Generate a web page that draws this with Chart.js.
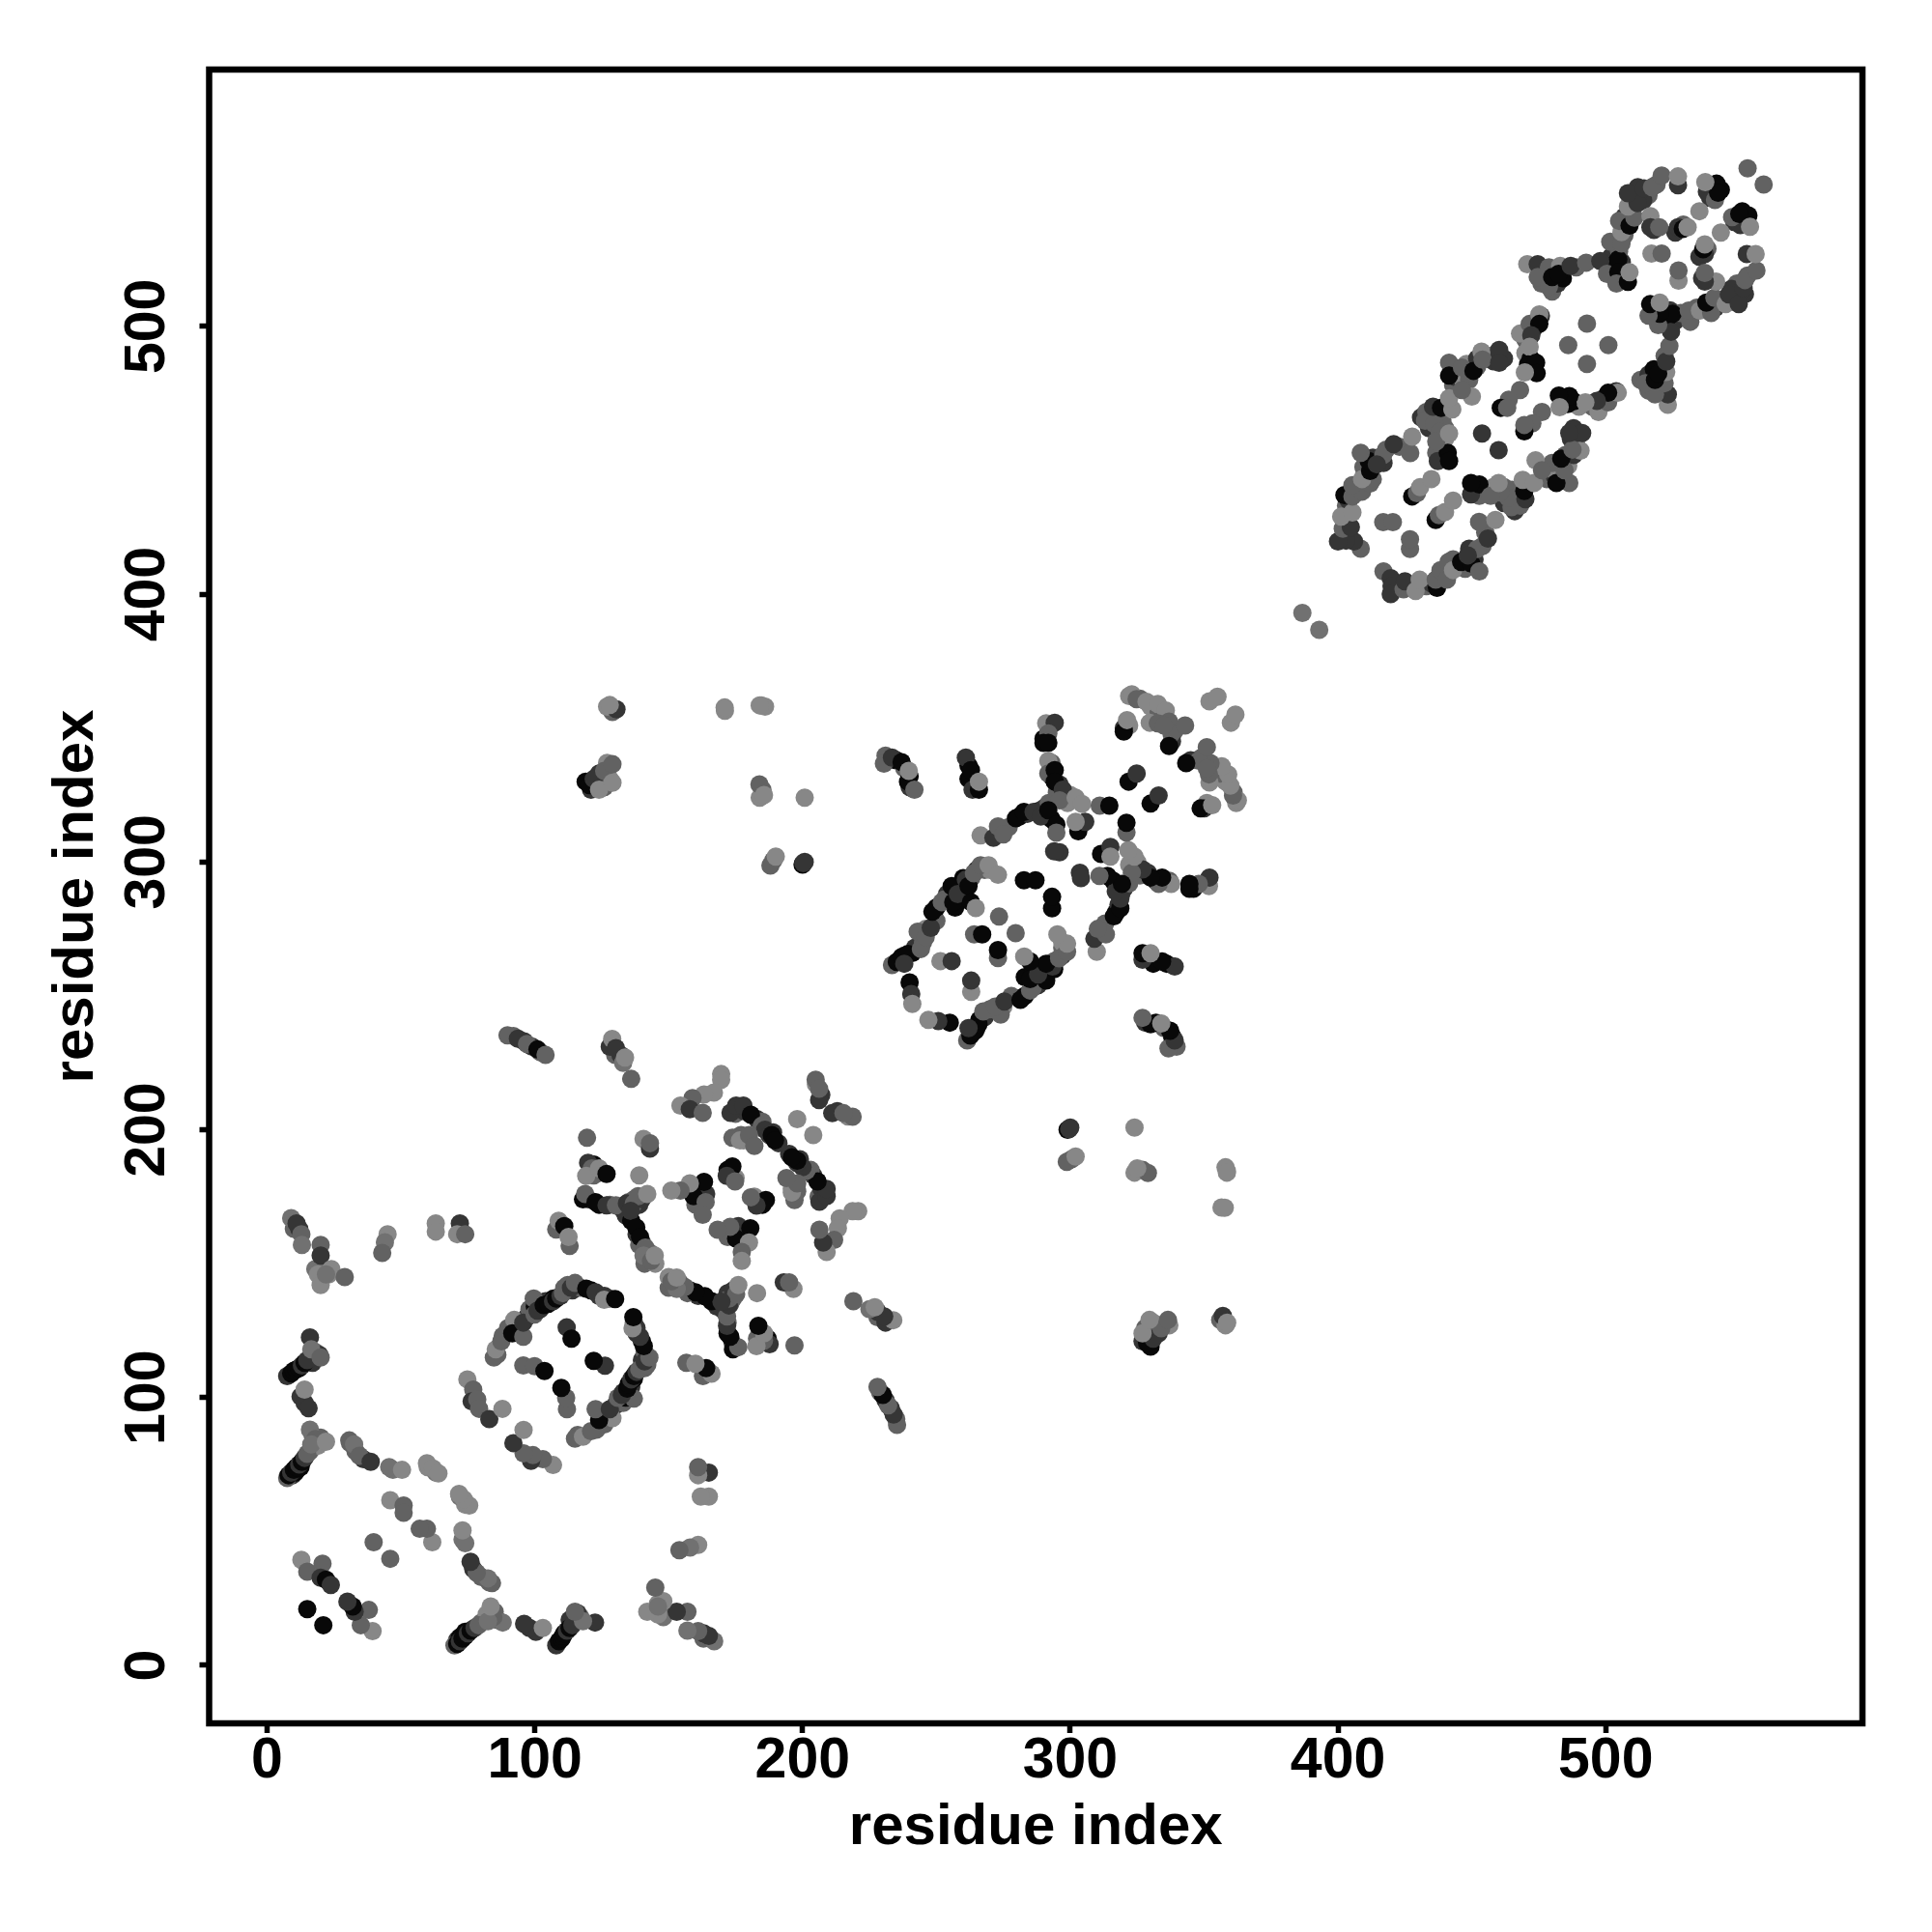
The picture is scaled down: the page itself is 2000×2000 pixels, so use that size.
<!DOCTYPE html>
<html>
<head>
<meta charset="utf-8">
<title>residue contact map</title>
<script src="https://cdn.jsdelivr.net/npm/chart.js@4"></script>
<style>
  body { margin: 0; background: #fff; }
  canvas { display: block; }
</style>
</head>
<body>
<canvas id="contacts" width="2000" height="2000"></canvas>
<script>
const tickValues = [0, 100, 200, 300, 400, 500];
const axisTitle = 'residue index';
const axisMin = -21.65;
const axisMax = 595.9;

// contact pairs (i < j), the map is symmetric so each is plotted both ways
const residueI = [
  184.6,186,189,200,200.8,129,127,171,123,126,128,119,124,185,184,
  403,404,407,408,410,413,409.5,413,417,418,423,
  431,433,437,434,439,440,438,439,440,
  443,444,447,449,448,452,452,456,458,462,
  473,470,470,472,
  236,238,241,242,245,246,250,250,254,253,258,260,263,265,268,270,257,259,260,
  275,277,281,284,288,290,293,292,295,298,299,300,
  86,88,90,93,94,97,98,100,102,104,107,111,114,117,121,124,128,
  120,124,128,132,133,135,137,139,134,136,138,140,139,142,141,145,143,
  122,124,122,
  175,178,183,185,189,191,177,178,
  172,173,175,161,162,160,164,
  10,12,21,23,18,
  17,18,9.5,10.5,12.5,16,17,19,20,
  31,33,36,47,60,63,
  102,99,92,96,130,132,
  232,235,238,240,240,262,264,262,
  290,292,293,293,296,
  322,326,330,322,320,333,334,339,338,
  122,121,126,127,
  476,476,480,482,484,489,479,
  502,503,506,506,505,
  507,507,509,510,513,512,516,514,519,
  518,526,529,543,539,
  207,205,
  9,11,12.8,13,20,20,19,20,24,22,29,
  45,44,43,63,63,72,71,74,
  16,19.5,7.5,9,10,11,12,13,14,15,12.5,14,15.5,16.5,20,14,
  7.5,8,9,10,11,12,13,14,15,16,18,16.5,22,
  30.7,32.5,34.5,38.7,45.6,50.4,59.7,62,64,46,51,51,39.8,
  12.8,15,20.7,20,22,23.8,15,
  84.7,85.4,87.5,92.3,91.6,95.7,95.7,99.6,99.9,101,103.3,105,106.8,108,109.6,110.5,112.3,113.5,115,119.2,122.7,126,125.9,130,
  111.9,113.7,95.7,99.9,103.6,
  74.8,77,76.4,78.5,79.2,83,87.9,
  89.8,93.7,97.1,101,104,128,128.9,130.3,133,133.7,136,
  119.5,140.6,143,143,139,
  119.9,121.3,119.2,124,126.8,118,118.8,122.7,126.8,130.3,134.4,136,137,140,138.6,142,135.8,137.9,139.3,141.3,140.6,143.4,144.8,
  108,108.9,111,113,112.6,
  169.6,169.6,166.9,163.2,158.9,154.4,157.9,162.7,
  173.1,175.2,177.9,180.7,184.8,186,187.6,188.5,189.7,173.8,176.6,180,182,
  173.8,171.7,174.8,163.2,159.3,163.8,162.7,157.9,154.4,151,
  204.9,206.2,206.2,198,
  231,230.4,233.4,237,239.4,239.7,241.8,
  261,262.9,263.5,265.9,265.9,
  291,294.2,291.8,290,291.8,
  291.8,291.8,294.2,294.2,297.2,296,302,304.4,311,314.6,
  266.5,271.3,273,275,279.7,282.7,286.3,289,291.8,294.8,294.8,
  303,305.6,302,296,294,
  233.4,235.2,237,239.4,238,244.2,243,246,247.9,248.5,252,255.7,256.3,258,261,262,264,266.5,269.5,273,262.9,264.7,240,240.6,241,
  282.7,287,273.4,264.1,267.1,251.5,255.7,
  323,324.8,328.5,332.7,335.7,320,321.2,329.7,332.7,336.9,337.8,336.9,342.9,335,321.8,324.8,352,355,
  120.4,122,124,125.9,129,129,130.5,128,170.9,184,183.9,185.6,200.8,188,190,200.3,
  386.7,
  408.5,406,403,400,401.8,404.8,401.2,405.4,402.4,405.4,409,405.4,412,409,412,411.5,408.5,416.9,414.5,420.8,427,427.7,
  432.5,436,435.5,438,436.7,437.3,441,441.5,436.7,441.5,438.5,442.7,441.5,450,446.3,441.5,441.5,446.3,450.6,453.6,454,460.2,460.2,
  468,471.6,475.8,475.2,475.2,472.2,471.6,471,474,474.2,469.8,
  493,486,468,463.8,460.8,463.2,453.8,
  427.7,429.5,430.7,434.9,416.9,420.5,
  470.7,474.6,474.6,478.8,478.8,480,483,482.4,486.9,492.7,498,500.5,504.7,504.7,504,508.3,508.9,
  501.7,505.9,505.9,505,508.9,510.7,508.3,511.9,508.3,514.3,517.3,520.9,527,527,
  516.7,516.7,520,527,528.8,530.6,517.1,520.9,535,537.8,540.8,541.4,542,537.2,553
];
const residueJ = [
  358.5,358,300.5,299,300,356,358,356.5,329,328,331,330,333,327,324,
  433,435,438,440,445,443,447.5,451,449,454,455,
  466,468,467,462,465,462,456,454,458,
  478,481,479,480,486,485,488,489,487,488,
  499,495,490,488,
  263,265,266,268,270,275,278,283,288,286,291,294,294,297,297,297,283,286,290,
  312,313,317,318,319,320,316,322,326,325,322,325,
  116,123,126,127,125,130,133,134,133,136,137,141,140,141,140,138,137,
  174,172,172,171,170,173,174,172,168,166,161,158,157,154,150,150,154,
  187,184,183,
  206,207,204,203,199,195,198,196,
  185,183,182,178,176,172,176,
  163,163,148,146,148,
  113,117,71,72,74,80,86,82,85,
  83,80,77,73,74,72,
  229,231,235,233,228,228,
  338,338,335,332,328,336,328,331,
  346,350,337,332,329,
  362,361,358,351,350,356,353,349,345,
  330,327,330,337,
  521,516,513,516,518,522,520,
  526,523,524,518,528,
  534,541,542,544,549,552,549,547,553,
  536,535,538,551,548,
  213,217,
  167,165,161,157,157,153,146,142,148,146,145,
  161,158,154,165,162,165,161,161,
  122.5,116,108,109,110,110.5,111,112,113,114,100.4,98,96,118,115,103,
  70,71,72,73,74,75,76,77.5,79,88,84.5,82.5,83.5,
  84,82.5,78.3,76,74,73,75.5,73.5,71.7,61.7,59.7,57,46,
  39.4,35,38,32.7,32,30,21,
  115,118,121,129,124,122.7,128,137,131,132.5,134.5,135,136,137,138,139,142,141,142.8,140.7,139.3,138,136.5,136.8,
  126.2,122,112,111.7,109.9,
  106.8,103,98.6,99.3,95.8,92,95.8,
  235.3,234,232,230,228,231,233.9,230.5,225,227,219,
  197,196.6,193,195,183,
  187.7,185.6,182.8,185.6,183.5,174,176,173,171.8,171.8,172.5,171,172.5,174,175.2,176,169.7,163.5,160,156,153,151,153,
  162.8,166,164,156.6,160,
  220.8,218.7,213.9,213.2,211.8,209,207.7,206.3,
  206.3,209,209,205.6,201.5,200,198,198,196,197,196,198,194,
  186.3,182.8,180.7,180.5,175.2,173,168.3,180,177.3,177.3,
  218.7,211.1,215.3,204,
  339.7,336.7,339,337.3,330,334,327,
  339,334.3,327,327,330,
  351.8,352,348,344.5,344.5,
  337.7,333,334.3,330,327,323,324,321.7,321,321,
  309.9,309,313.3,310.3,316.3,318.7,318.7,317,319.3,313.9,310.9,
  311.5,315,315,303.6,304,
  261.5,262.7,264.5,265.7,262,267.5,274,272,275.4,281.4,285,291,285,288,293.4,291,295.8,298.8,298.8,295.2,285,282.8,255,250.7,247,
  293.2,293.2,279.6,273,273,263,263,
  362.6,360.8,359.8,359,356.6,348.7,353,352,351.8,352.4,348,343.3,351,351,330,333,360,361.7,
  328.7,331,327,334,336.5,329.6,357,358.6,357.7,358.5,329,325,324,298.7,302,299.6,
  393,
  417,419.7,420,419.7,424.5,425,429,430.5,437,436.5,438.3,440.7,441.3,443,446,449.7,452.8,452,448.5,456,452.7,458.8,
  464.8,463.6,470,460.6,452.8,449.7,452.8,449.7,457,460,469.6,469,473.2,473.8,476.2,486.4,481.6,484.6,483.4,490.6,487.6,491.2,486.4,
  497.3,500.9,503.9,504.5,500.9,496.7,492.4,485.8,486.4,482.5,482.8,
  501,493,476.2,472.6,469.6,469.6,460,
  436.5,437.7,440,443,426.9,426.9,
  523.2,523.2,518.4,514.8,522,518.4,522.6,519.6,522.6,523.8,524.4,519.6,525,520.2,516,516.6,520.2,
  531.6,531,535.2,539.4,537.6,540.6,544.8,546,549.7,551.5,552,556.3,552.7,556,
  541.2,537,537,537,536.4,537,527.2,527.2,543,550.3,547.2,553.3,549.9,553.9,559
];
const contactScore = [
  .1,.1,.35,.95,.65,.35,.1,.1,.35,.35,.1,.95,.65,.35,.1,
  .35,.65,.95,.65,.65,.35,.35,.65,.65,.35,.35,
  .65,.35,.95,.65,.35,.35,.35,.65,.1,
  .35,.65,.1,.35,.1,.35,.65,.35,.65,.65,
  .65,.35,.1,.95,
  .95,.65,.95,.65,.35,.1,.35,.95,.65,.35,.65,.95,.35,.65,.35,.1,.95,.95,.35,
  .65,.35,.95,.65,.95,.65,.95,.35,.35,.35,.1,.1,
  .35,.35,.35,.65,.95,.65,.35,.95,.65,.65,.95,.35,.65,.35,.95,.65,.35,
  .65,.95,.35,.35,.65,.35,.35,.65,.65,.95,.65,.65,.35,.35,.35,.1,.35,
  .95,.65,.35,
  .35,.65,.65,.35,.65,.65,.35,.1,
  .95,.65,.1,.95,.35,.35,.65,
  .35,.65,.1,.1,.25,
  .65,.35,.65,.95,.95,.35,.35,.1,.35,
  .35,.35,.65,.25,.1,.25,
  .35,.65,.35,.65,.35,.65,
  .65,.95,.35,.95,.65,.95,.95,.95,
  .95,.65,.35,.95,.65,
  .1,.35,.1,.1,.65,.35,.35,.35,.65,
  .35,.65,.35,.1,
  .65,.35,.35,.65,.95,.35,.65,
  .65,.95,.65,.95,.35,
  .35,.65,.95,.35,.65,.65,.35,.65,.35,
  .65,.65,.35,.95,.65,
  .65,.1,
  .25,.65,.35,.25,.35,.65,.1,.1,.1,.25,.35,
  .1,.25,.35,.1,.1,.65,.1,.35,
  .65,.65,.65,.95,.95,.95,.95,.65,.95,.65,.65,.65,.65,.25,.35,.1,
  .35,.95,.65,.95,.95,.65,.95,.65,.35,.25,.35,.25,.1,
  .35,.25,.35,.65,.25,.1,.1,.1,.1,.1,.35,.35,.35,
  .1,.35,.35,.65,.95,.65,.95,
  .35,.1,.35,.1,.95,.35,.65,.35,.35,.65,.95,.95,.65,.95,.65,.35,.35,.65,.35,.95,.65,.65,.1,.95,
  .65,.95,.35,.35,.95,
  .1,.35,.65,.35,.35,.65,.1,
  .35,.65,.35,.95,.35,.65,.1,.65,.25,.1,.35,
  .35,.1,.65,.35,.1,
  .65,.35,.1,.1,.95,.95,.35,.95,.65,.35,.65,.65,.35,.65,.35,.1,.65,.95,.95,.35,.25,.35,.1,
  .35,.1,.95,.35,.1,
  .1,.1,.1,.1,.35,.1,.65,.35,
  .65,.65,.65,.95,.35,.65,.65,.95,.95,.35,.1,.35,.35,
  .95,.65,.35,.95,.95,.35,.35,.1,.35,.1,
  .35,.65,.35,.1,
  .35,.35,.65,.95,.95,.1,.35,
  .65,.95,.65,.95,.1,
  .1,.65,.35,.95,.95,
  .1,.35,.95,.95,.65,.35,.1,.1,.35,.95,
  .1,.65,.35,.35,.95,.95,.65,.65,.95,.95,.35,
  .95,.65,.1,.65,.65,
  .35,.95,.95,.95,.65,.35,.35,.35,.65,.95,.35,.95,.95,.65,.65,.95,.35,.35,.1,.1,.95,.1,.95,.65,.1,
  .95,.95,.35,.35,.95,.1,.65,
  .1,.35,.1,.1,.1,.95,.1,.1,.35,.35,.35,.95,.35,.35,.95,.65,.1,.1,
  .95,.65,.1,.35,.35,.1,.65,.1,.1,.1,.35,.1,.1,.35,.1,.65,
  .25,
  .35,.65,.65,.65,.35,.65,.1,.1,.95,.35,.35,.35,.35,.1,.95,.95,.35,.35,.65,.65,.35,.1,
  .35,.35,.65,.35,.35,.65,.95,.95,.35,.1,.95,.1,.1,.1,.35,.35,.95,.35,.95,.1,.35,.65,.65,
  .1,.35,.65,.1,.95,.65,.1,.95,.95,.95,.1,
  .35,.35,.35,.35,.95,.35,.65,
  .95,.35,.1,.1,.35,.35,
  .1,.65,.35,.35,.35,.95,.1,.95,.65,.35,.65,.35,.95,.95,.35,.95,.1,
  .35,.35,.1,.35,.95,.35,.1,.65,.65,.65,.35,.35,.65,.1,
  .1,.65,.35,.65,.95,.1,.1,.35,.1,.65,.35,.95,.95,.1,.35
];

const frame = { left: 216.5, top: 72, right: 1928, bottom: 1784 };

function scoreColor(ctx) {
  const grey = Math.round(150 * (1 - contactScore[ctx.dataIndex]));
  return 'rgb(' + grey + ',' + grey + ',' + grey + ')';
}

const upper = residueI.map((v, k) => ({ x: v, y: residueJ[k] }));
const lower = residueI.map((v, k) => ({ x: residueJ[k], y: v }));

function axis(extra) {
  return Object.assign({
    type: 'linear',
    min: axisMin,
    max: axisMax,
    afterBuildTicks: s => { s.ticks = tickValues.map(v => ({ value: v })); },
    grid: { drawOnChartArea: false, drawTicks: true, tickLength: 10, tickWidth: 5.5, tickColor: '#000' },
    border: { display: false }
  }, extra);
}

const tickFont = { family: 'Liberation Sans', size: 59, weight: 'bold' };
const titleFont = { family: 'Liberation Sans', size: 60, weight: 'bold' };

const framePlugin = {
  id: 'frame',
  afterDraw(chart) {
    const a = chart.chartArea, c = chart.ctx;
    c.save();
    c.strokeStyle = '#000';
    c.lineWidth = 6.5;
    c.strokeRect(a.left, a.top, a.right - a.left, a.bottom - a.top);
    c.restore();
  }
};

new Chart(document.getElementById('contacts'), {
  type: 'scatter',
  plugins: [framePlugin],
  data: {
    datasets: [
      { data: upper, backgroundColor: scoreColor, pointRadius: 9.5, borderWidth: 0 },
      { data: lower, backgroundColor: scoreColor, pointRadius: 9.5, borderWidth: 0 }
    ]
  },
  options: {
    responsive: false,
    animation: false,
    devicePixelRatio: 1,
    layout: { padding: { top: frame.top, right: 2000 - frame.right, left: 0, bottom: 0 } },
    plugins: { legend: { display: false }, tooltip: { enabled: false } },
    scales: {
      x: axis({
        afterFit: s => { s.height = 2000 - frame.bottom; },
        ticks: { color: '#000', font: tickFont, padding: -6, autoSkip: false, maxRotation: 0, minRotation: 0 },
        title: { display: true, text: axisTitle, color: '#000', font: titleFont, padding: { top: 0, bottom: 72 } }
      }),
      y: axis({
        afterFit: s => { s.width = frame.left; },
        ticks: { color: '#000', font: tickFont, padding: 4, autoSkip: false, maxRotation: 90, minRotation: 90, crossAlign: 'center' },
        title: { display: true, text: axisTitle, color: '#000', font: titleFont, padding: { top: 43, bottom: 0 } }
      })
    }
  }
});
</script>
</body>
</html>
